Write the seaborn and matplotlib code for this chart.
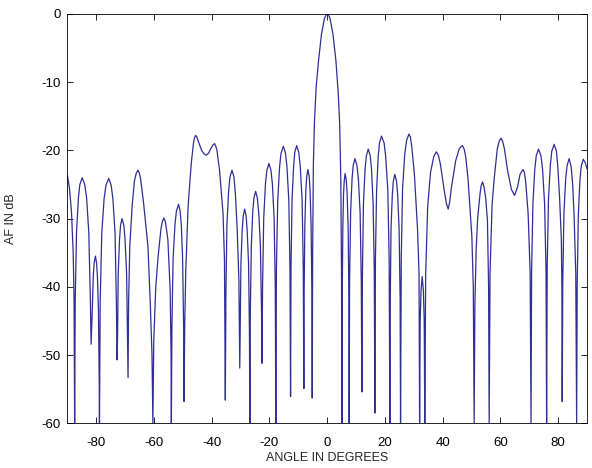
import matplotlib
matplotlib.use("Agg")
import matplotlib.pyplot as plt
import seaborn as sns
import pandas as pd

# ---- data (angle in degrees, array factor in dB) ----
left_angle = [
    -90.0, -89.3, -88.6, -88.0, -87.7, -87.5,
    -87.3, -86.85, -86.2, -85.7, -84.9, -84.0, -83.35, -82.6, -82.05, -81.8,
    -81.4, -81.05, -80.75, -80.3, -79.9, -79.6, -79.25, -79.0, -78.9,
    -78.65, -78.1, -77.3, -76.65, -75.7, -74.85, -74.25, -73.5, -73.05, -72.8,
    -72.65, -72.4, -71.95, -71.6, -71.1, -70.45, -70.05, -69.5, -69.15, -69.0,
    -68.8, -68.4, -67.6, -66.8, -66.2, -65.6, -65.1, -64.6, -63.6, -62.1, -61.3, -60.7, -60.4,
    -60.1, -59.4, -58.6, -57.6, -57.1, -56.6, -56.1, -55.6, -55.2, -54.4, -54.1, -54.0,
    -53.8, -53.4, -52.75, -52.25, -51.5, -50.95, -50.55, -50.1, -49.75, -49.6,
    -49.35, -49.0, -48.2, -47.1, -46.3, -46.0, -45.6, -45.2, -44.8, -43.5, -42.7,
    -41.9, -41.1, -40.4, -39.6, -39.0, -38.6, -38.2, -37.3, -36.1, -35.6, -35.3,
    -35.1, -34.75, -34.15, -33.7, -33.0, -32.3, -31.8, -31.2, -30.6, -30.3,
    -30.15, -29.9, -29.45, -29.1, -28.6, -28.1, -27.75, -27.25, -26.95, -26.8,
    -26.65, -26.3, -25.8, -25.4, -24.8, -24.2, -23.7, -23.15, -22.75, -22.6,
    -22.4, -22.0, -21.4, -20.9, -20.2, -19.5, -19.0, -18.4, -18.0, -17.8,
    -17.6, -17.15, -16.5, -16.0, -15.2, -14.45, -13.95, -13.3, -12.9, -12.7,
    -12.55, -12.2, -11.65, -11.25, -10.6, -9.85, -9.35, -8.7, -8.3, -8.1,
    -8.0, -7.75, -7.4, -7.1, -6.7, -6.25, -5.95, -5.6, -5.3, -5.2,
]
left_db = [
    -23.7, -25.5, -29.0, -35.0, -42.0, -60.0,
    -42.0, -32.0, -27.0, -25.0, -24.0, -25.0, -27.0, -32.0, -42.0, -48.4,
    -43.5, -38.5, -36.5, -35.5, -36.5, -38.5, -43.5, -53.5, -60.0,
    -42.1, -32.1, -27.1, -25.1, -24.1, -25.1, -27.1, -32.1, -42.1, -50.7,
    -48.0, -38.0, -33.0, -31.0, -30.0, -31.0, -33.0, -38.0, -48.0, -53.3,
    -42.0, -34.1, -28.2, -24.5, -23.4, -22.9, -23.3, -24.3, -27.8, -34.1, -42.4, -50.0, -60.0,
    -48.0, -40.0, -35.6, -31.5, -30.4, -29.9, -30.4, -31.8, -33.1, -40.6, -50.0, -60.0,
    -45.9, -35.9, -30.9, -28.9, -27.9, -28.9, -30.9, -35.9, -45.9, -56.8,
    -45.0, -37.6, -28.2, -21.9, -18.8, -18.2, -17.8, -18.0, -18.5, -20.0, -20.5,
    -20.7, -20.4, -19.8, -19.2, -19.0, -19.4, -20.0, -22.9, -29.2, -36.0, -56.6,
    -40.9, -30.9, -25.9, -23.9, -22.9, -23.9, -26.5, -31.5, -39.0, -51.9,
    -46.6, -36.6, -31.6, -29.6, -28.6, -29.6, -31.6, -36.6, -46.6, -60.0,
    -44.0, -34.0, -29.0, -27.0, -26.0, -27.0, -29.3, -34.0, -44.0, -51.2,
    -39.9, -29.9, -24.9, -22.9, -21.9, -22.9, -24.9, -29.9, -39.9, -60.0,
    -37.4, -27.4, -22.4, -20.4, -19.4, -20.4, -22.4, -27.4, -37.4, -56.1,
    -37.3, -27.3, -22.3, -20.3, -19.3, -20.3, -22.3, -27.3, -37.3, -54.9,
    -40.8, -30.8, -25.8, -23.8, -22.8, -23.8, -25.8, -30.8, -40.8, -56.3,
]

main_angle = [-5.05, -4.8, -4.4, -3.8, -3.0, -2.0, -1.0, -0.5, 0.0,
              0.5, 1.0, 2.0, 3.0, 3.8, 4.3, 4.7, 4.95, 5.1]
main_db = [-35.0, -22.0, -15.5, -10.5, -6.8, -3.0, -0.7, -0.2, 0.0,
           -0.2, -0.7, -3.0, -6.8, -11.5, -16.0, -24.0, -38.0, -60.0]

right_angle = [
    5.2, 5.4, 5.65, 5.9, 6.2, 6.6, 6.9, 7.25, 7.5, 7.6,
    7.75, 8.1, 8.6, 9.0, 9.6, 10.3, 10.8, 11.4, 11.8, 12.0,
    12.2, 12.55, 13.1, 13.55, 14.2, 14.9, 15.35, 15.9, 16.3, 16.5,
    16.7, 17.1, 17.65, 18.1, 18.8, 19.7, 20.25, 21.0, 21.45, 21.7,
    21.85, 22.1, 22.55, 22.9, 23.4, 24.0, 24.4, 24.9, 25.25, 25.4,
    25.65, 26.1, 26.85, 27.45, 28.3, 28.8, 29.3, 30.2, 31.3, 31.8, 32.0,
    32.2, 32.5, 32.9, 33.3, 33.6, 33.8,
    34.1, 34.8, 35.8, 36.9, 37.8, 38.5, 39.2, 40.5, 41.3, 41.9, 42.4,
    43.0, 44.5, 45.7, 46.3, 46.9, 47.5, 48.0, 48.8, 50.1, 50.6, 50.9,
    51.15, 51.6, 52.1, 52.9, 53.3, 53.8, 54.35, 54.9, 55.5, 55.9, 56.1,
    56.4, 57.1, 57.8, 58.9, 59.6, 60.2, 60.8, 61.4, 62.5, 63.8,
    64.9, 65.9, 66.8, 67.8, 68.3, 68.8, 69.6, 70.3, 70.6,
    70.8, 71.25, 71.9, 72.4, 73.2, 74.05, 74.6, 75.3, 75.8, 76.0,
    76.2, 76.65, 77.3, 77.8, 78.6, 79.4, 79.9, 80.5, 81.1, 81.3, 81.4,
    81.6, 82.0, 82.6, 83.1, 83.8, 84.5, 85.0, 85.5, 86.1, 86.4,
    86.6, 87.0, 87.55, 88.0, 88.7, 89.4, 90.0,
]
right_db = [
    -41.4, -31.4, -26.4, -24.4, -23.4, -24.4, -26.4, -31.4, -41.4, -60.0,
    -39.2, -29.2, -24.2, -22.2, -21.2, -22.2, -24.2, -29.2, -39.2, -55.4,
    -37.8, -27.8, -22.8, -20.8, -19.8, -20.8, -22.8, -27.8, -37.8, -58.5,
    -35.9, -25.9, -20.9, -18.9, -17.9, -18.9, -20.9, -25.9, -35.9, -60.0,
    -41.5, -31.5, -26.5, -24.5, -23.5, -24.5, -26.5, -31.5, -41.5, -60.0,
    -35.6, -25.6, -20.6, -18.6, -17.6, -18.0, -19.5, -23.5, -31.7, -38.0, -60.0,
    -45.0, -40.5, -38.5, -40.5, -45.0, -60.0,
    -38.2, -28.2, -23.2, -20.9, -20.2, -20.7, -22.0, -25.8, -27.8, -28.6, -27.6,
    -25.5, -21.5, -19.8, -19.45, -19.3, -19.9, -21.0, -24.3, -32.6, -40.0, -60.0,
    -42.6, -34.5, -30.0, -26.5, -25.2, -24.6, -25.4, -27.0, -30.2, -40.0, -60.0,
    -38.0, -28.0, -24.3, -19.8, -18.6, -18.2, -18.7, -19.8, -23.0, -25.7,
    -26.6, -25.4, -23.5, -22.8, -23.2, -24.8, -29.3, -38.0, -60.0,
    -37.8, -27.8, -22.8, -20.8, -19.8, -20.8, -22.8, -27.8, -37.8, -60.0,
    -37.1, -27.1, -22.1, -20.1, -19.1, -20.1, -22.5, -27.0, -33.0, -40.0, -56.8,
    -39.2, -29.2, -24.2, -22.2, -21.2, -22.4, -24.8, -29.3, -38.0, -60.0,
    -39.3, -29.3, -24.3, -22.3, -21.3, -21.8, -22.7,
]

x_ticks = [-80, -60, -40, -20, 0, 20, 40, 60, 80]
y_ticks = [-60, -50, -40, -30, -20, -10, 0]
x_label = "ANGLE IN DEGREES"
y_label = "AF IN dB"

df = pd.DataFrame({
    "angle": left_angle + main_angle + right_angle,
    "af": left_db + main_db + right_db,
})

# ---- styling ----
sns.set_theme(style="white")
plt.rcParams["font.family"] = ["Liberation Sans", "DejaVu Sans"]
plt.rcParams["axes.unicode_minus"] = False

fig = plt.figure(figsize=(5.92, 4.68), dpi=100)
ax = fig.add_axes([0.1139, 0.0955, 0.8777, 0.8746])

sns.lineplot(data=df, x="angle", y="af", sort=False, estimator=None,
             color="#2e2e96", linewidth=0.9, ax=ax)

ax.set_xlim(-90, 90)
ax.set_ylim(-60, 0)
ax.set_xticks(x_ticks)
ax.set_yticks(y_ticks)
ax.set_xticklabels([str(t) for t in x_ticks])
ax.set_yticklabels([str(t) for t in y_ticks])
ax.tick_params(direction="in", length=4, width=0.6, top=True, right=True,
               bottom=True, left=True, labelsize=9.5, colors="black")
ax.tick_params(axis="x", pad=10)
ax.tick_params(axis="y", pad=5)
for s in ax.spines.values():
    s.set_visible(True)
    s.set_color("black")
    s.set_linewidth(0.6)
ax.set_xlabel(x_label, fontsize=9, labelpad=2)
ax.set_ylabel(y_label, fontsize=9, labelpad=17)
ax.set_facecolor("white")
fig.patch.set_facecolor("white")

fig.savefig("out.png", dpi=100, facecolor="white")
